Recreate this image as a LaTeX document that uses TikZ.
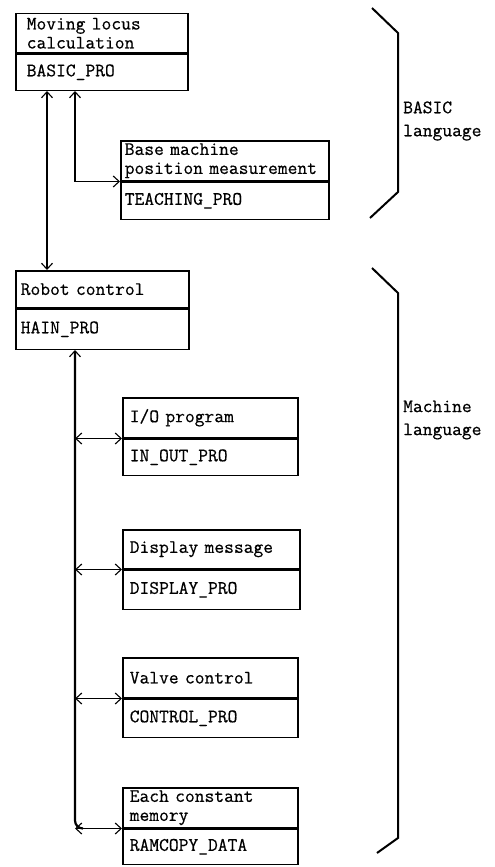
\documentclass[tikz,border=0pt]{standalone}
\usepackage{fontspec}
\newfontfamily\tw{Latin Modern Mono}[FakeBold=0.5]
\usetikzlibrary{arrows.meta}
\begin{document}
\begin{tikzpicture}[x=1pt,y=-1pt,
  barb/.tip={Straight Barb[length=6pt,width=11pt,line width=1.1pt]},
  cell/.style={draw, line width=1.5pt, anchor=north west, align=left, inner ysep=0pt,
    font=\tw\fontsize{19}{19}\selectfont},
  lbl/.style={anchor=west, align=left, inner sep=0pt,
    font=\tw\fontsize{19}{23}\selectfont},
  bold/.style={line width=2.2pt, barb-barb},
  thin/.style={line width=1.1pt, barb-barb},
  brace/.style={line width=2pt, line join=miter}
]
\useasboundingbox (0,0) rectangle (495,867);

% Box 1
\node[cell, text width=150pt, inner xsep=11pt, minimum height=39pt] (b1t) at (15,13) {Moving locus\\calculation};
\node[cell, text width=150pt, inner xsep=11pt, minimum height=36pt] (b1b) at (b1t.south west) {BASIC\_PRO};
% Box 2
\node[cell, text width=200pt, inner xsep=4pt, minimum height=40pt] (b2t) at (120,140) {Base machine\\position measurement};
\node[cell, text width=200pt, inner xsep=4pt, minimum height=37pt] (b2b) at (b2t.south west) {TEACHING\_PRO};
% Box 3
\node[cell, text width=163pt, inner xsep=5pt, minimum height=37pt] (b3t) at (15,270) {Robot control};
\node[cell, text width=163pt, inner xsep=5pt, minimum height=40pt] (b3b) at (b3t.south west) {HAIN\_PRO};
% Box 4
\node[cell, text width=161pt, inner xsep=7pt, minimum height=40pt] (b4t) at (122,397) {I/O program};
\node[cell, text width=161pt, inner xsep=7pt, minimum height=36pt] (b4b) at (b4t.south west) {IN\_OUT\_PRO};
% Box 5
\node[cell, text width=163pt, inner xsep=7pt, minimum height=39pt] (b5t) at (122,529) {Display message};
\node[cell, text width=163pt, inner xsep=7pt, minimum height=39pt] (b5b) at (b5t.south west) {DISPLAY\_PRO};
% Box 6
\node[cell, text width=161pt, inner xsep=7pt, minimum height=40pt] (b6t) at (122,657) {Valve control};
\node[cell, text width=161pt, inner xsep=7pt, minimum height=38pt] (b6b) at (b6t.south west) {CONTROL\_PRO};
% Box 7
\node[cell, text width=161pt, inner xsep=7pt, minimum height=40pt] (b7t) at (122,787) {Each constant\\memory};
\node[cell, text width=161pt, inner xsep=7pt, minimum height=35pt] (b7b) at (b7t.south west) {RAMCOPY\_DATA};

% connectors upper part
\draw[bold] ([xshift=32pt]b1b.south west) -- ([xshift=32pt]b3t.north west);
\draw[line width=1.7pt, barb-barb] ([xshift=60pt]b1b.south west) |- (b2t.south west);

% bus
\coordinate (busTop) at ([xshift=60pt]b3b.south west);
\coordinate (busBot) at (busTop |- b7t.south west);
\draw[line width=2.2pt, barb-] (busTop) -- ([yshift=8pt]busBot) to[out=-90,in=180] ([xshift=8pt]busBot);
\draw[thin] (busTop |- b4t.south west) -- (b4t.south west);
\draw[thin] (busTop |- b5t.south west) -- (b5t.south west);
\draw[thin] (busTop |- b6t.south west) -- (b6t.south west);
\draw[thin] (busTop |- b7t.south west) -- (b7t.south west);

% braces
\draw[brace] (372,8) -- (398,33) -- (398,192) -- (370,218);
\draw[brace] (372,268) -- (398,293) -- (398,838) -- (377,853);
\node[lbl] (l1) at (403,121) {BASIC\\language};
\node[lbl] (l2) at (403,420) {Machine\\language};
\end{tikzpicture}
\end{document}
